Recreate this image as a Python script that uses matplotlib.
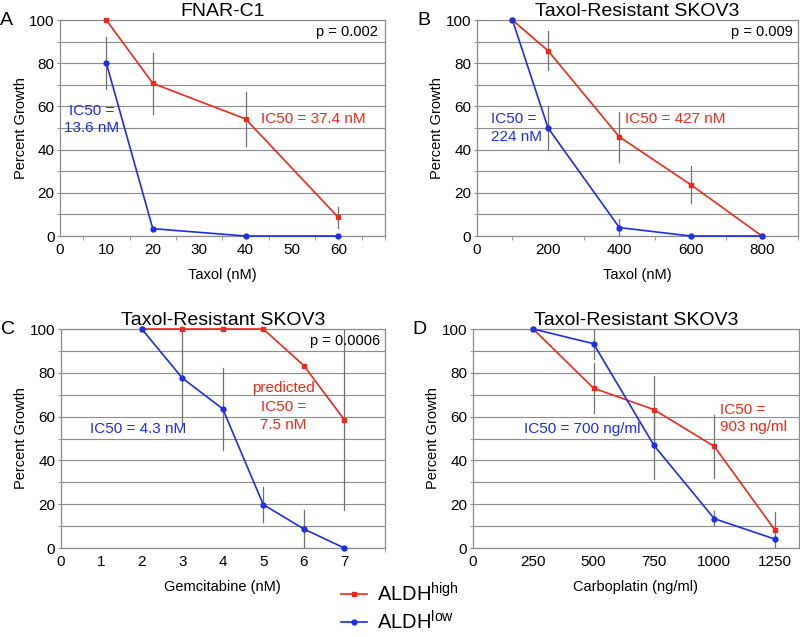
import matplotlib
matplotlib.use("Agg")
import matplotlib.pyplot as plt
from matplotlib.ticker import MultipleLocator

plt.rcParams["font.family"] = ["Liberation Sans", "DejaVu Sans"]
plt.rcParams["mathtext.fontset"] = "custom"
plt.rcParams["mathtext.rm"] = "Liberation Sans"
plt.rcParams["mathtext.it"] = "Liberation Sans"

RED = "#f02818"
BLUE = "#1c2ee6"
GREY = "#8c8c8c"

# panel A - FNAR-C1, taxol
a_x = [10, 20, 40, 60]
a_high = [100, 70.7, 54.2, 8.6]
a_high_err = [0, 14, 12.6, 4.8]
a_low = [80, 3.4, 0, 0]
a_low_err = [12, 0, 0, 0]

# panel B - taxol-resistant SKOV3, taxol
b_x = [100, 200, 400, 600, 800]
b_high = [100, 85.8, 45.9, 23.8, 0]
b_high_err = [0, 9, 11.5, 8.7, 0]
b_low = [100, 50, 3.9, 0, 0]
b_low_err = [0, 10, 4, 0, 0]

# panel C - gemcitabine
c_x = [2, 3, 4, 5, 6, 7]
c_high = [100, 100, 100, 100, 83.3, 58.6]
c_high_err = [0, 0, 0, 0, 0, 41.4]
c_low = [100, 77.6, 63.5, 19.8, 8.7, 0]
c_low_err = [0, 22, 18.6, 8, 8.6, 0]

# panel D - carboplatin
d_x = [250, 500, 750, 1000, 1250]
d_high = [100, 73, 63.2, 46.4, 8.4]
d_high_err = [0, 11.4, 15.5, 14.5, 8]
d_low = [100, 93.3, 46.9, 13.4, 4.1]
d_low_err = [0, 7, 15.6, 3.5, 0]

fig = plt.figure(figsize=(8, 6.37), dpi=100)

axA = fig.add_axes([0.075, 0.6295, 0.406, 0.339])
axB = fig.add_axes([0.596, 0.6295, 0.401, 0.339])
axC = fig.add_axes([0.076, 0.1397, 0.405, 0.3438])
axD = fig.add_axes([0.591, 0.1397, 0.4075, 0.3438])


def draw(ax, x, hi, hi_err, lo, lo_err, xlim, xstep, xminor, title, xlabel, letter):
    for xs, ys, es in [(x, hi, hi_err), (x, lo, lo_err)]:
        for xi, yi, ei in zip(xs, ys, es):
            if ei > 0:
                ax.plot([xi, xi], [yi - ei, yi + ei], color="#707070", lw=0.9, zorder=2)
    l1, = ax.plot(x, hi, color=RED, marker="s", ms=3.5, lw=1.2, clip_on=False, zorder=3)
    l2, = ax.plot(x, lo, color=BLUE, marker="o", ms=3.5, lw=1.2, clip_on=False, zorder=4)
    ax.set_xlim(*xlim)
    ax.set_ylim(0, 100)
    ax.xaxis.set_major_locator(MultipleLocator(xstep))
    ax.xaxis.set_minor_locator(MultipleLocator(xminor))
    ax.yaxis.set_major_locator(MultipleLocator(20))
    ax.yaxis.set_minor_locator(MultipleLocator(10))
    ax.set_xticks([t for t in ax.get_xticks() if t <= x[-1]])
    ax.set_xlim(*xlim)
    ax.grid(axis="y", which="both", color=GREY, lw=0.8)
    ax.set_axisbelow(True)
    for s in ax.spines.values():
        s.set_color(GREY)
        s.set_linewidth(0.9)
    ax.tick_params(axis="both", which="both", colors=GREY, labelcolor="black", labelsize=11)
    ax.tick_params(axis="y", which="both", length=2, pad=2)
    ax.tick_params(axis="x", which="major", length=0, pad=5)
    ax.tick_params(axis="x", which="minor", length=3)
    ax.set_ylabel("Percent Growth", fontsize=10.5, labelpad=1)
    ax.set_xlabel(xlabel, fontsize=10.5, labelpad=8)
    ax.set_title(title, fontsize=14, pad=3)
    ax.text(-0.185, 1.0, letter, transform=ax.transAxes, fontsize=14, va="center", ha="left")
    return l1, l2


l1, l2 = draw(axA, a_x, a_high, a_high_err, a_low, a_low_err, (0, 70), 10, 5,
              "FNAR-C1", "Taxol (nM)", "A")
axA.text(6.9, 54, "IC50 =\n13.6 nM", color=BLUE, fontsize=11, ha="center", va="center",
         linespacing=1.3)
axA.text(43.3, 54, "IC50 = 37.4 nM", color=RED, fontsize=11, ha="left", va="center")
axA.text(0.98, 0.945, "p = 0.002", transform=axA.transAxes, fontsize=10.5, ha="right", va="center")

draw(axB, b_x, b_high, b_high_err, b_low, b_low_err, (0, 900), 200, 100,
     "Taxol-Resistant SKOV3", "Taxol (nM)", "B")
axB.text(40, 50, "IC50 =\n224 nM", color=BLUE, fontsize=11, ha="left", va="center",
         linespacing=1.3)
axB.text(415, 54, "IC50 = 427 nM", color=RED, fontsize=11, ha="left", va="center")
axB.text(0.985, 0.945, "p = 0.009", transform=axB.transAxes, fontsize=10.5, ha="right", va="center")

draw(axC, c_x, c_high, c_high_err, c_low, c_low_err, (0, 8), 1, 1,
     "Taxol-Resistant SKOV3", "Gemcitabine (nM)", "C")
axC.text(0.71, 54.3, "IC50 = 4.3 nM", color=BLUE, fontsize=11, ha="left", va="center")
axC.text(5.5, 64.5, "predicted\nIC50 =\n7.5 nM", color=RED, fontsize=11, ha="center", va="center",
         linespacing=1.4)
axC.text(0.985, 0.945, "p = 0.0006", transform=axC.transAxes, fontsize=10.5, ha="right", va="center")

draw(axD, d_x, d_high, d_high_err, d_low, d_low_err, (0, 1350), 250, 250,
     "Taxol-Resistant SKOV3", "Carboplatin (ng/ml)", "D")
axD.text(210, 54.5, "IC50 = 700 ng/ml", color=BLUE, fontsize=11, ha="left", va="center")
axD.text(1025, 59, "IC50 =\n903 ng/ml", color=RED, fontsize=11, ha="left", va="center",
         linespacing=1.3)

fig.legend([l1, l2], ["ALDH$^{\\mathrm{high}}$", "ALDH$^{\\mathrm{low}}$"],
           loc="upper center", bbox_to_anchor=(0.5, 0.086), frameon=False,
           fontsize=14.5, handlelength=1.3, handletextpad=0.5, labelspacing=0.22,
           borderaxespad=0, borderpad=0)

fig.savefig("out.png", dpi=100)
